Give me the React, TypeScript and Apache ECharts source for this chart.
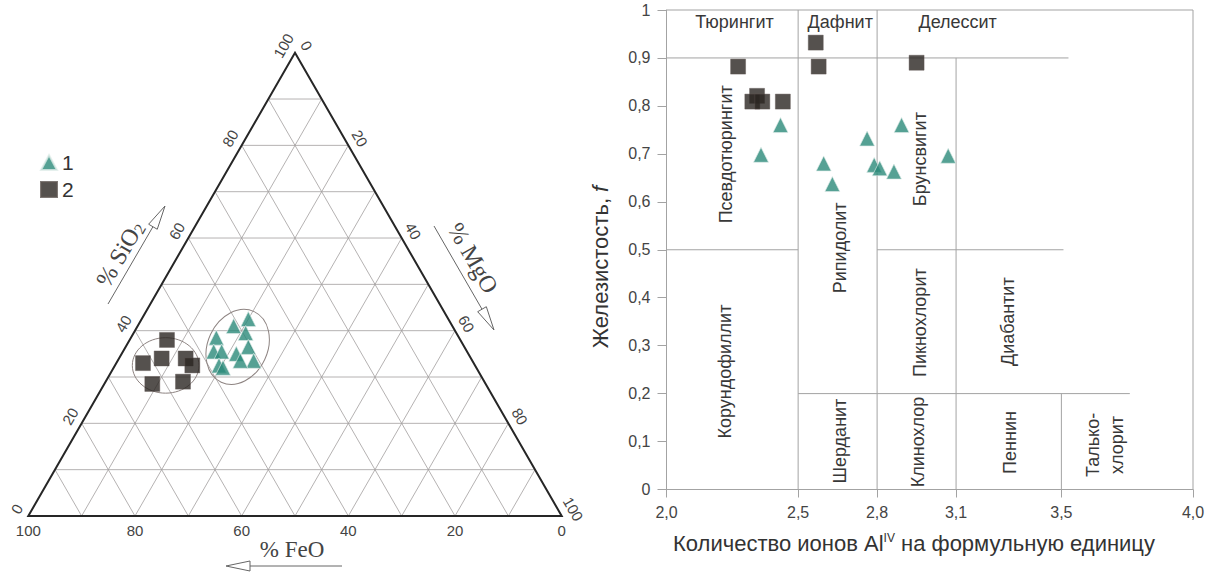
import React, { useEffect, useRef } from "react";
import * as echarts from "echarts";

// ---------------- Ternary diagram FeO – MgO – SiO2 (%) ----------------
const TERNARY_GRID_STEPS = [10, 20, 30, 40, 50, 60, 70, 80, 90];
const TERNARY_TICK_VALUES = [0, 20, 40, 60, 80, 100];

// group 1 (triangles)
const G1_FEO = [45.5, 41, 37.5, 39.5, 47.5, 46, 43.5, 40.5, 41, 48, 43.5, 47.5];
const G1_MGO = [16, 18, 20, 21, 17, 18.5, 21.5, 23, 25.5, 19.5, 23, 20.5];
const G1_SIO2 = [38.5, 41, 42.5, 39.5, 35.5, 35.5, 35, 36.5, 33.5, 32.5, 33.5, 32];

// group 2 (squares)
const G2_FEO = [62, 55, 58, 53.5, 53, 62.5, 56.5];
const G2_MGO = [5, 7, 8, 12.5, 14.5, 9, 14.5];
const G2_SIO2 = [33, 38, 34, 34, 32.5, 28.5, 29];

// centres of the outlining ellipses (FeO, MgO, SiO2)
const ELLIPSE_FEO = [58, 42.5];
const ELLIPSE_MGO = [9.5, 21];
const ELLIPSE_SIO2 = [32.5, 36.5];

// ---------------- Classification diagram (Al IV vs f) ----------------
const AL_TICKS = [2.0, 2.5, 2.8, 3.1, 3.5, 4.0];
const G1_AL = [2.433, 2.359, 2.597, 2.63, 2.762, 2.789, 2.81, 2.864, 2.893, 3.07];
const G1_F = [0.76, 0.698, 0.68, 0.637, 0.732, 0.677, 0.67, 0.663, 0.76, 0.696];
const G2_AL = [2.272, 2.344, 2.326, 2.364, 2.442, 2.567, 2.578, 2.95];
const G2_F = [0.882, 0.821, 0.809, 0.809, 0.809, 0.932, 0.882, 0.89];

// field boundaries: [Al1, f1, Al2, f2]
const FIELD_BOUNDARIES = [
  [2.0, 0.9, 3.527, 0.9],
  [2.0, 0.5, 2.5, 0.5],
  [2.8, 0.5, 3.508, 0.5],
  [2.5, 0.2, 3.76, 0.2],
  [2.5, 0, 2.5, 1],
  [2.8, 0, 2.8, 1],
  [3.1, 0, 3.1, 0.9],
  [3.5, 0, 3.5, 0.2],
];

const FIELD_NAMES = [
  "Тюрингит", "Дафнит", "Делессит", "Псевдотюрингит", "Рипидолит", "Брунсвигит",
  "Пикнохлорит", "Диабантит", "Корундофиллит", "Шерданит", "Клинохлор", "Пеннин", "Талько-\nхлорит",
];
const FIELD_AL = [2.258, 2.66, 3.106, 2.226, 2.66, 2.962, 2.962, 3.298, 2.224, 2.66, 2.956, 3.305, 3.666];
const FIELD_F = [0.976, 0.976, 0.976, 0.699, 0.504, 0.689, 0.348, 0.35, 0.246, 0.101, 0.099, 0.098, 0.093];
const FIELD_VERTICAL = [false, false, false, true, true, true, true, true, true, true, true, true, true];

// ---------------- layout / styles ----------------
const SANS = "'Liberation Sans', Arial, sans-serif";
const SERIF = "'Liberation Serif', 'Times New Roman', serif";
const TRI = { left: 28.3, top: 52.7, width: 533.4, height: 463.3 };
const RGRID = { left: 666.5, top: 10, width: 526.5, height: 479.5 };
const TEAL = "#2a8a79";
const DARK = "#2b2522";
const ELLIPSE_STYLE = [
  { rx: 6.25, ry: 5.2, tilt: 0 },
  { rx: 5.6, ry: 7.3, tilt: -25 },
];
const SIDE_STYLE: Record<string, { dx: number; dy: number; rot: number }> = {
  base: { dx: 0, dy: 14, rot: 0 },
  left: { dx: -11.5, dy: -7, rot: 60 },
  right: { dx: 11.5, dy: -7, rot: -60 },
};

const toXY = (fe: number, mg: number, si: number) => [mg + si / 2, si];

function arrow(x1: number, y1: number, x2: number, y2: number) {
  const dx = x2 - x1, dy = y2 - y1;
  const L = Math.hypot(dx, dy);
  const ux = dx / L, uy = dy / L;
  const hl = 24, hw = 5;
  const bx = x2 - ux * hl, by = y2 - uy * hl;
  return [
    { type: "line", shape: { x1, y1, x2: bx, y2: by }, style: { stroke: "#666", lineWidth: 1 }, silent: true },
    {
      type: "polygon",
      shape: { points: [[x2, y2], [bx - uy * hw, by + ux * hw], [bx + uy * hw, by - ux * hw]] },
      style: { fill: "#fff", stroke: "#666", lineWidth: 1 },
      silent: true,
    },
  ];
}

function txt(x: number, y: number, text: string, opts: any = {}) {
  return {
    type: "text",
    x,
    y,
    rotation: ((opts.rot || 0) * Math.PI) / 180,
    silent: true,
    style: {
      text,
      fill: opts.color || "#333",
      fontSize: opts.size || 16,
      fontFamily: opts.family || SANS,
      align: "center",
      verticalAlign: "middle",
      textAlign: "center",
      textVerticalAlign: "middle",
      rich: opts.rich,
    },
  };
}

export default function App() {
  const ref = useRef<HTMLDivElement>(null);

  useEffect(() => {
    document.body.style.margin = "0";
    if (!ref.current) return;
    const chart = echarts.init(ref.current, undefined, { renderer: "svg" });

    const gridSegments: number[][] = [];
    TERNARY_GRID_STEPS.forEach((k) => {
      gridSegments.push([k / 2, k, 100 - k / 2, k]);
      gridSegments.push([k, 0, k + (100 - k) / 2, 100 - k]);
      gridSegments.push([100 - k, 0, (100 - k) / 2, 100 - k]);
    });

    const tickItems: { pos: number[]; text: string; side: string }[] = [];
    TERNARY_TICK_VALUES.forEach((k) => {
      tickItems.push({ pos: [100 - k, 0], text: String(k), side: "base" });
      tickItems.push({ pos: [k / 2, k], text: String(k), side: "left" });
      tickItems.push({ pos: [50 + k / 2, 100 - k], text: String(k), side: "right" });
    });

    const segRender = (color: string, width: number) => (params: any, api: any) => {
      const p1 = api.coord([api.value(0), api.value(1)]);
      const p2 = api.coord([api.value(2), api.value(3)]);
      return {
        type: "line",
        shape: { x1: p1[0], y1: p1[1], x2: p2[0], y2: p2[1] },
        style: { stroke: color, lineWidth: width },
      };
    };

    const g1Tern = G1_FEO.map((fe, i) => toXY(fe, G1_MGO[i], G1_SIO2[i]));
    const g2Tern = G2_FEO.map((fe, i) => toXY(fe, G2_MGO[i], G2_SIO2[i]));
    const ellData = ELLIPSE_FEO.map((fe, i) => toXY(fe, ELLIPSE_MGO[i], ELLIPSE_SIO2[i]));

    const triStyle = { color: TEAL, borderColor: "#dfece9", borderWidth: 0.8 };
    const sqStyle = { color: DARK, borderColor: "#5e5653", borderWidth: 0.5 };

    const fmtComma = (v: number) => (v === 0 ? "0" : v === 1 ? "1" : v.toFixed(1).replace(".", ","));

    const option: any = {
      animation: false,
      backgroundColor: "#ffffff",
      grid: [
        { left: TRI.left, top: TRI.top, width: TRI.width, height: TRI.height, show: false, outerBoundsMode: "none" },
        {
          left: RGRID.left, top: RGRID.top, width: RGRID.width, height: RGRID.height,
          show: true, borderColor: "#a3a3a3", borderWidth: 1, backgroundColor: "transparent", outerBoundsMode: "none",
        },
      ],
      xAxis: [
        { gridIndex: 0, type: "value", min: 0, max: 100, show: false },
        {
          gridIndex: 1, type: "value", min: 2, max: 4,
          axisLine: { show: true, onZero: false, lineStyle: { color: "#a3a3a3", width: 1 } },
          axisTick: { show: true, length: 8, customValues: AL_TICKS, lineStyle: { color: "#a3a3a3" } },
          axisLabel: {
            customValues: AL_TICKS, margin: 15, color: "#444", fontSize: 16, fontFamily: SANS,
            formatter: (v: number) => v.toFixed(1).replace(".", ","),
          },
          splitLine: { show: false },
        },
      ],
      yAxis: [
        { gridIndex: 0, type: "value", min: 0, max: 100, show: false },
        {
          gridIndex: 1, type: "value", min: 0, max: 1, interval: 0.1,
          axisLine: { show: true, onZero: false, lineStyle: { color: "#a3a3a3", width: 1 } },
          axisTick: { show: true, length: 9, lineStyle: { color: "#a3a3a3" } },
          axisLabel: { margin: 16, color: "#444", fontSize: 16, fontFamily: SANS, formatter: fmtComma, showMinLabel: true, showMaxLabel: true },
          splitLine: { show: false },
        },
      ],
      legend: {
        left: 35, top: 147, orient: "vertical", itemWidth: 16, itemHeight: 15, itemGap: 6,
        selectedMode: false,
        data: [{ name: "1", icon: "triangle" }, { name: "2", icon: "rect" }],
        textStyle: { fontSize: 21, color: "#333", fontFamily: SANS },
      },
      series: [
        {
          type: "custom", name: "grid", xAxisIndex: 0, yAxisIndex: 0, silent: true, clip: false,
          encode: { x: [0, 2], y: [1, 3] },
          data: gridSegments, renderItem: segRender("#a29e9e", 0.8), z: 1,
        },
        {
          type: "custom", name: "edges", xAxisIndex: 0, yAxisIndex: 0, silent: true, clip: false,
          data: [[0, 0]], z: 2,
          renderItem: (params: any, api: any) => ({
            type: "polygon",
            shape: { points: [api.coord([0, 0]), api.coord([100, 0]), api.coord([50, 100])] },
            style: { fill: "none", stroke: "#262626", lineWidth: 2, lineJoin: "miter" },
          }),
        },
        {
          type: "custom", name: "ellipses", xAxisIndex: 0, yAxisIndex: 0, silent: true, clip: false,
          data: ellData, z: 3,
          renderItem: (params: any, api: any) => {
            const s = ELLIPSE_STYLE[params.dataIndex];
            const c = api.coord([api.value(0), api.value(1)]);
            const rx = api.size([s.rx, 0])[0];
            const ry = api.size([s.ry, 0])[0];
            return {
              type: "ellipse", x: c[0], y: c[1], rotation: (s.tilt * Math.PI) / 180,
              shape: { cx: 0, cy: 0, rx, ry },
              style: { fill: "none", stroke: "#8e8482", lineWidth: 1 },
            };
          },
        },
        {
          type: "custom", name: "ternaryTicks", xAxisIndex: 0, yAxisIndex: 0, silent: true, clip: false,
          data: tickItems.map((t) => t.pos), z: 4,
          renderItem: (params: any, api: any) => {
            const it = tickItems[params.dataIndex];
            const st = SIDE_STYLE[it.side];
            const c = api.coord([api.value(0), api.value(1)]);
            return txt(c[0] + st.dx, c[1] + st.dy, it.text, { rot: st.rot, size: 15, color: "#444" });
          },
        },
        {
          type: "scatter", name: "1", xAxisIndex: 0, yAxisIndex: 0, symbol: "triangle", symbolSize: 15,
          itemStyle: triStyle, data: g1Tern, z: 5,
        },
        {
          type: "scatter", name: "2", xAxisIndex: 0, yAxisIndex: 0, symbol: "rect", symbolSize: 15,
          itemStyle: sqStyle, data: g2Tern, z: 5,
        },
        {
          type: "custom", name: "fields", xAxisIndex: 1, yAxisIndex: 1, silent: true, clip: false,
          encode: { x: [0, 2], y: [1, 3] },
          data: FIELD_BOUNDARIES, renderItem: segRender("#a3a3a3", 1), z: 1,
        },
        {
          type: "custom", name: "fieldNames", xAxisIndex: 1, yAxisIndex: 1, silent: true, clip: false,
          data: FIELD_AL.map((a, i) => [a, FIELD_F[i]]), z: 2,
          renderItem: (params: any, api: any) => {
            const i = params.dataIndex;
            const c = api.coord([api.value(0), api.value(1)]);
            const t: any = txt(c[0], c[1], FIELD_NAMES[i], { rot: FIELD_VERTICAL[i] ? 90 : 0, size: 18, color: "#383838" });
            t.style.lineHeight = 24;
            return t;
          },
        },
        {
          type: "scatter", name: "1", xAxisIndex: 1, yAxisIndex: 1, symbol: "triangle", symbolSize: 15,
          itemStyle: triStyle, data: G1_AL.map((a, i) => [a, G1_F[i]]), z: 5,
        },
        {
          type: "scatter", name: "2", xAxisIndex: 1, yAxisIndex: 1, symbol: "rect", symbolSize: 15,
          itemStyle: sqStyle, data: G2_AL.map((a, i) => [a, G2_F[i]]), z: 5,
        },
      ],
      graphic: [
        ...arrow(108, 304, 165, 206),
        ...arrow(434, 226, 494, 330),
        ...arrow(342, 566, 226, 566),
        txt(120, 254, "% SiO{sub|2}", {
          rot: 60, size: 24, family: SERIF, color: "#444",
          rich: { sub: { fontSize: 16, fontFamily: SERIF, fill: "#444", verticalAlign: "bottom", lineHeight: 25 } },
        }),
        txt(473, 258, "% MgO", { rot: -60, size: 24, family: SERIF, color: "#444" }),
        txt(292, 549, "% FeO", { size: 23, family: SERIF, color: "#444" }),
        txt(600, 267, "Железистость, {i|f}", {
          rot: 90, size: 22, color: "#333",
          rich: { i: { fontStyle: "italic", fontSize: 22, fontFamily: SANS, fill: "#333" } },
        }),
        txt(914, 543, "Количество ионов Al{sup|IV} на формульную единицу", {
          size: 22, color: "#333",
          rich: { sup: { fontSize: 12, fontFamily: SANS, fill: "#333", verticalAlign: "top", lineHeight: 14 } },
        }),
      ],
    };

    chart.setOption(option);
    return () => chart.dispose();
  }, []);

  return <div ref={ref} style={{ width: 1210, height: 574 }} />;
}
